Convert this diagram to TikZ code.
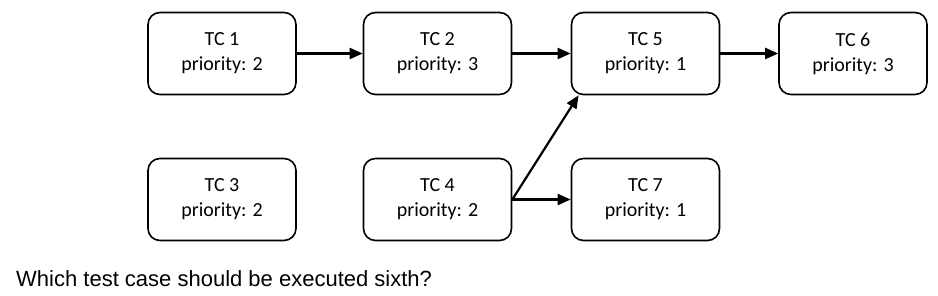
\documentclass[tikz,border=0pt]{standalone}
\usepackage{fontspec}
\setmainfont{Carlito}
\newfontfamily\questionfont{Liberation Sans}
\usetikzlibrary{arrows.meta}
\begin{document}
\begin{tikzpicture}[x=1pt, y=-1pt,
  tcbox/.style={draw, line width=1.6pt, rounded corners=12pt, minimum width=148pt, minimum height=82pt, align=center, font=\fontsize{20}{25}\selectfont},
  flow/.style={line width=2.2pt, -{Triangle[length=13pt, width=11pt]}}]
  \useasboundingbox (0, 0) rectangle (938, 296);

  % Top row
  \node[tcbox] (tc1) at (222, 53.5) {TC 1\\priority: 2};
  \node[tcbox] (tc2) at (437.5, 53.5) {TC 2\\priority: 3};
  \node[tcbox] (tc5) at (645.5, 53.5) {TC 5\\priority: 1};
  \node[tcbox] (tc6) at (853, 53.5) {TC 6\\priority: 3};

  % Bottom row
  \node[tcbox] (tc3) at (222, 199.5) {TC 3\\priority: 2};
  \node[tcbox] (tc4) at (437.5, 199.5) {TC 4\\priority: 2};
  \node[tcbox] (tc7) at (645.5, 199.5) {TC 7\\priority: 1};

  % Dependencies
  \draw[flow] (tc1.east) -- (tc2.west);
  \draw[flow] (tc2.east) -- (tc5.west);
  \draw[flow] (tc5.east) -- (tc6.west);
  \draw[flow] (tc4.east) -- (tc7.west);
  \draw[flow] (tc4.east) -- (tc5.-148);

  \node[anchor=base west, font=\questionfont\fontsize{22}{26}\selectfont, inner sep=0pt] (question) at (16, 287) {Which test case should be executed sixth?};
\end{tikzpicture}
\end{document}
